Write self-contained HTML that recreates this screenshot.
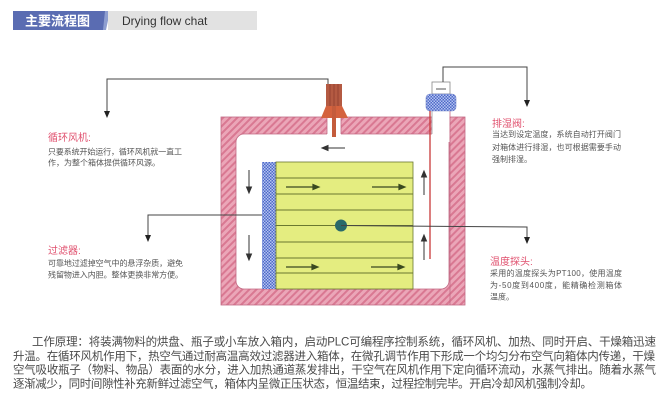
<!DOCTYPE html>
<html><head><meta charset="utf-8">
<style>
html,body{margin:0;padding:0;background:#fff;}
svg{display:block;}
text{font-family:"Liberation Sans","Noto Sans CJK SC",sans-serif;}
</style></head>
<body>
<svg width="670" height="407" viewBox="0 0 670 407" xmlns="http://www.w3.org/2000/svg">
<defs>
<pattern id="h" width="5" height="5" patternUnits="userSpaceOnUse" patternTransform="rotate(45)">
<rect width="5" height="5" fill="#eba6b8"/><rect width="2" height="5" fill="#d97892"/>
</pattern>
<pattern id="ck" width="3" height="3" patternUnits="userSpaceOnUse">
<rect width="3" height="3" fill="#4e68c8"/><rect x="0" y="0" width="1.5" height="1.5" fill="#b4c4f0"/><rect x="1.5" y="1.5" width="1.5" height="1.5" fill="#b4c4f0"/>
</pattern>
</defs>

<!-- header -->
<rect x="13" y="11" width="92" height="19" fill="#5a6cb2"/>
<polygon points="105,11 110,11 106,30 103,30" fill="#8e9ed0"/>
<rect x="108" y="11" width="149" height="19" fill="#e2e2e2"/>
<text x="25" y="25.5" font-size="13" font-weight="bold" fill="#fff">主要流程图</text>
<text x="122" y="25" font-size="12" fill="#333">Drying flow chat</text>

<!-- oven walls -->
<rect x="221" y="117" width="244" height="188" fill="url(#h)" stroke="#c26a84" stroke-width="0.8"/>
<rect x="236" y="134" width="213" height="155" rx="8" fill="#fff" stroke="#c26a84" stroke-width="0.8"/>
<!-- fan gap -->
<rect x="327" y="116" width="14" height="19" fill="#fff"/>
<line x1="327" y1="117" x2="327" y2="134" stroke="#c26a84" stroke-width="0.8"/>
<line x1="341" y1="117" x2="341" y2="134" stroke="#c26a84" stroke-width="0.8"/>
<!-- pipe gap -->
<rect x="432" y="110" width="17.5" height="32" fill="#fff"/>
<line x1="432" y1="111" x2="432" y2="134" stroke="#9a9a9a" stroke-width="0.8"/>
<line x1="450" y1="111" x2="450" y2="305" stroke="#c26a84" stroke-width="0.8"/>

<!-- fan -->
<rect x="326" y="84" width="16" height="22" fill="#b45a42"/>
<line x1="330" y1="84" x2="330" y2="106" stroke="#8a3a2a" stroke-width="0.7"/>
<line x1="334" y1="84" x2="334" y2="106" stroke="#8a3a2a" stroke-width="0.7"/>
<line x1="338" y1="84" x2="338" y2="106" stroke="#8a3a2a" stroke-width="0.7"/>
<polygon points="326,106 342,106 348,118 321,118" fill="#d4623e"/>
<rect x="332" y="106" width="4" height="31" fill="#c45c3c"/>

<!-- vent -->
<rect x="432" y="82" width="18" height="12" fill="#fff" stroke="#888" stroke-width="0.8"/>
<line x1="436" y1="89" x2="446" y2="89" stroke="#555" stroke-width="1"/>
<rect x="426" y="94" width="30" height="17" rx="4" fill="url(#ck)" stroke="#7a8ac8" stroke-width="0.6"/>

<!-- red line -->
<line x1="430" y1="111" x2="430" y2="259" stroke="#c83838" stroke-width="1.3"/>

<!-- product -->
<rect x="262" y="162" width="14" height="127" fill="url(#ck)"/>
<rect x="276" y="162" width="137" height="127" fill="#e4ed80" stroke="#6a7830" stroke-width="0.8"/>
<g stroke="#6a7830" stroke-width="1">
<line x1="276" y1="178" x2="413" y2="178"/>
<line x1="276" y1="194" x2="413" y2="194"/>
<line x1="276" y1="210" x2="413" y2="210"/>
<line x1="276" y1="225.5" x2="413" y2="225.5"/>
<line x1="276" y1="242" x2="413" y2="242"/>
<line x1="276" y1="258" x2="413" y2="258"/>
<line x1="276" y1="273" x2="413" y2="273"/>
</g>
<!-- flow arrows in product -->
<g stroke="#3a4a20" stroke-width="1.2" fill="#3a4a20">
<line x1="286" y1="187" x2="314" y2="187"/><polygon points="319,187 313,184.5 313,189.5"/>
<line x1="372" y1="187" x2="400" y2="187"/><polygon points="405,187 399,184.5 399,189.5"/>
<line x1="286" y1="267" x2="313" y2="267"/><polygon points="318,267 312,264.5 312,269.5"/>
<line x1="371" y1="267" x2="399" y2="267"/><polygon points="404,267 398,264.5 398,269.5"/>
</g>
<!-- air arrows -->
<g stroke="#333" stroke-width="1" fill="#333">
<line x1="345" y1="148" x2="327" y2="148"/><polygon points="322,148 328,145.5 328,150.5"/>
<line x1="249" y1="170" x2="249" y2="188"/><polygon points="249,193 246.5,187 251.5,187"/>
<line x1="249" y1="235" x2="249" y2="255"/><polygon points="249,260 246.5,254 251.5,254"/>
<line x1="424" y1="195" x2="424" y2="176"/><polygon points="424,171 421.5,177 426.5,177"/>
<line x1="424" y1="260" x2="424" y2="240"/><polygon points="424,235 421.5,241 426.5,241"/>
</g>

<!-- probe -->
<circle cx="341" cy="225.5" r="6" fill="#2a6a6a"/>

<!-- connectors -->
<g stroke="#444" stroke-width="1" fill="none">
<polyline points="107,113 107,79 328,79 328,84"/>
<polyline points="443,82 443,67 527,67 527,101"/>
<polyline points="262,215 148,215 148,236"/>
<polyline points="341,225.5 527,227 527,238"/>
</g>
<g fill="#222">
<polygon points="107,118 104,111 110,111"/>
<polygon points="527,107 524,100 530,100"/>
<polygon points="148,242 145,235 151,235"/>
<polygon points="527,244 524,237 530,237"/>
</g>

<!-- labels -->
<g font-size="10" fill="#e0506e">
<text x="48" y="141">循环风机:</text>
<text x="48" y="254">过滤器:</text>
<text x="492" y="127">排湿阀:</text>
<text x="490" y="265">温度探头:</text>
</g>
<g font-size="8" fill="#555">
<text x="48" y="154.5" textLength="134" lengthAdjust="spacing">只要系统开始运行，循环风机就一直工</text>
<text x="48" y="165.5">作，为整个箱体提供循环风源。</text>
<text x="48" y="266" textLength="135" lengthAdjust="spacing">可靠地过滤掉空气中的悬浮杂质，避免</text>
<text x="48" y="277.5" textLength="135" lengthAdjust="spacing">残留物进入内胆。整体更换非常方便。</text>
<text x="492" y="137" textLength="129" lengthAdjust="spacing">当达到设定温度，系统自动打开阀门</text>
<text x="492" y="150" textLength="129" lengthAdjust="spacing">对箱体进行排湿，也可根据需要手动</text>
<text x="492" y="162">强制排湿。</text>
<text x="490" y="276" textLength="132" lengthAdjust="spacing">采用的温度探头为PT100，使用温度</text>
<text x="490" y="288" textLength="132" lengthAdjust="spacing">为-50度到400度，能精确检测箱体</text>
<text x="490" y="299.5">温度。</text>
</g>

<!-- paragraph -->
<g font-size="11.5" fill="#4a4a4a">
<text x="32" y="345.5" textLength="624" lengthAdjust="spacing">工作原理：将装满物料的烘盘、瓶子或小车放入箱内，启动PLC可编程序控制系统，循环风机、加热、同时开启、干燥箱迅速</text>
<text x="13" y="360" textLength="642" lengthAdjust="spacing">升温。在循环风机作用下，热空气通过耐高温高效过滤器进入箱体，在微孔调节作用下形成一个均匀分布空气向箱体内传递，干燥</text>
<text x="13" y="373.5" textLength="643" lengthAdjust="spacing">空气吸收瓶子（物料、物品）表面的水分，进入加热通道蒸发排出，干空气在风机作用下定向循环流动，水蒸气排出。随着水蒸气</text>
<text x="13" y="387.5" textLength="579" lengthAdjust="spacing">逐渐减少，同时间隙性补充新鲜过滤空气，箱体内呈微正压状态，恒温结束，过程控制完毕。开启冷却风机强制冷却。</text>
</g>
</svg>
</body></html>
